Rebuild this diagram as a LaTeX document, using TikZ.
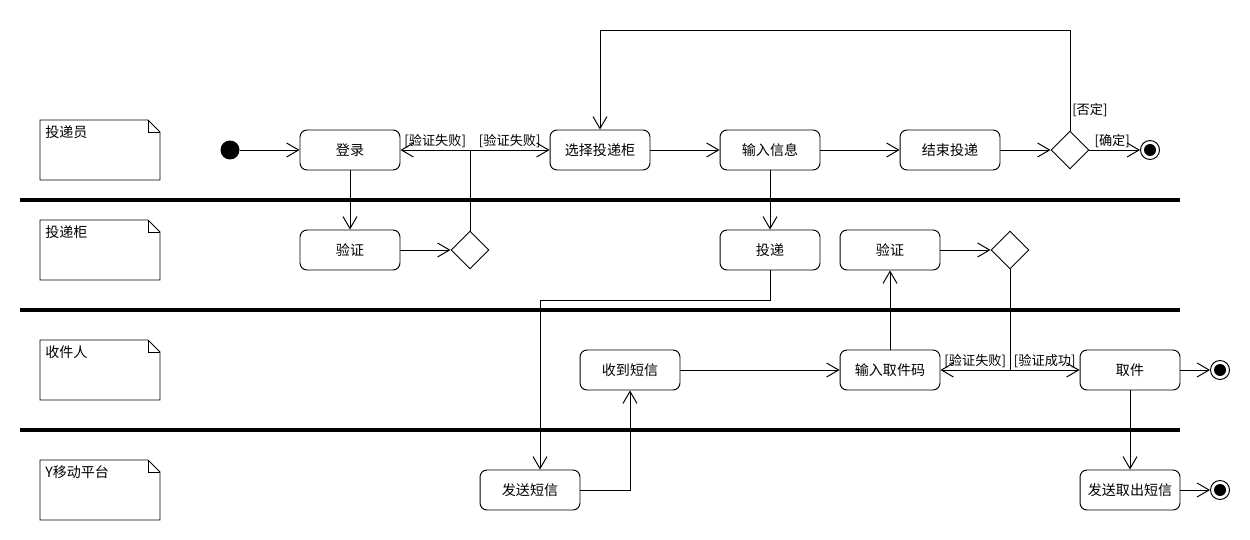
\documentclass[tikz,border=0pt]{standalone}
\usepackage{fontspec}
\setmainfont{Noto Sans CJK SC}
\usetikzlibrary{arrows.meta,positioning,calc,shapes.geometric}

\begin{document}
\begin{tikzpicture}[
  x=0.02cm, y=-0.02cm,
  act/.style={rectangle, draw, rounded corners=4pt, minimum width=2cm,
              minimum height=0.8cm, font=\fontsize{8}{9}\selectfont, line width=0.55pt},
  choice/.style={diamond, draw, minimum width=0.76cm, minimum height=0.76cm,
                 inner sep=0pt, line width=0.55pt},
  start/.style={circle, fill, minimum size=0.38cm, inner sep=0pt},
  stop/.style={circle, draw, line width=0.55pt, minimum size=0.38cm, inner sep=0pt,
               path picture={\fill (path picture bounding box.center) circle (0.12cm);}},
  guard/.style={font=\fontsize{7.5}{8}\selectfont, inner sep=1pt},
  flow/.style={draw, line width=0.55pt, -{Straight Barb[length=2.4mm,width=2.8mm]}},
  lane/.style={line width=2.8pt},
]
  \useasboundingbox (0,0) rectangle (1250,540);

  % swimlanes
  \foreach \y in {200,310,430}
    \draw[lane] (20,\y) -- (1180,\y);
  \foreach \y/\name in {120/投递员,220/投递柜,340/收件人,460/Y移动平台} {
    \draw[line width=0.55pt] (40,\y) -- (148,\y) -- (160,\y+12) -- (160,\y+60)
      -- (40,\y+60) -- cycle;
    \draw[line width=0.55pt] (148,\y) -- (148,\y+12) -- (160,\y+12);
    \node[anchor=north west, font=\fontsize{8}{9}\selectfont, inner sep=0pt]
      at (45,\y+5) {\name};
  }

  % courier
  \node[start] (init) at (230,150) {};
  \node[act] (login) at (350,150) {登录};
  \node[act] (pick) at (600,150) {选择投递柜};
  \node[act] (info) at (770,150) {输入信息};
  \node[act] (finish) at (950,150) {结束投递};
  \node[choice] (ok) at (1070,150) {};
  \node[stop] (end1) at (1150,150) {};

  % locker
  \node[act] (check1) at (350,250) {验证};
  \node[choice] (res1) at (470,250) {};
  \node[act] (deliver) at (770,250) {投递};
  \node[act] (check2) at (890,250) {验证};
  \node[choice] (res2) at (1010,250) {};

  % receiver
  \node[act] (recv) at (630,370) {收到短信};
  \node[act] (code) at (890,370) {输入取件码};
  \node[act] (take) at (1130,370) {取件};
  \node[stop] (end2) at (1220,370) {};

  % platform
  \node[act] (sms) at (530,490) {发送短信};
  \node[act] (sms2) at (1130,490) {发送取出短信};
  \node[stop] (end3) at (1220,490) {};

  \draw[flow] (init) -- (login);
  \draw[flow] (login) -- (check1);
  \draw[flow] (check1) -- (res1);
  \draw[line width=0.55pt] (res1.north) -- (470,150) coordinate (split1);
  \draw[flow] (split1) -- node[guard, above, pos=0.5] {[验证失败]} (login.east);
  \draw[flow] (split1) -- node[guard, above, pos=0.5] {[验证失败]} (pick.west);
  \draw[flow] (pick) -- (info);
  \draw[flow] (info) -- (finish);
  \draw[flow] (finish) -- (ok);
  \draw[flow] (ok) -- node[guard, above, pos=0.45] {[确定]} (end1);
  \draw[flow] (ok.north) -- node[guard, right, pos=0.2] {[否定]} (1070,30) -| (pick.north);
  \draw[flow] (info) -- (deliver);
  \draw[flow] (deliver.south) |- (540,300) -- (sms.north -| 540,0);
  \draw[flow] (sms.east) -| (recv.south);
  \draw[flow] (recv) -- (code);
  \draw[flow] (code) -- (check2);
  \draw[flow] (check2) -- (res2);
  \draw[line width=0.55pt] (res2.south) -- (1010,370) coordinate (split2);
  \draw[flow] (split2) -- node[guard, above, pos=0.5] {[验证失败]} (code.east);
  \draw[flow] (split2) -- node[guard, above, pos=0.5] {[验证成功]} (take.west);
  \draw[flow] (take) -- (end2);
  \draw[flow] (take) -- (sms2);
  \draw[flow] (sms2) -- (end3);
\end{tikzpicture}
\end{document}
